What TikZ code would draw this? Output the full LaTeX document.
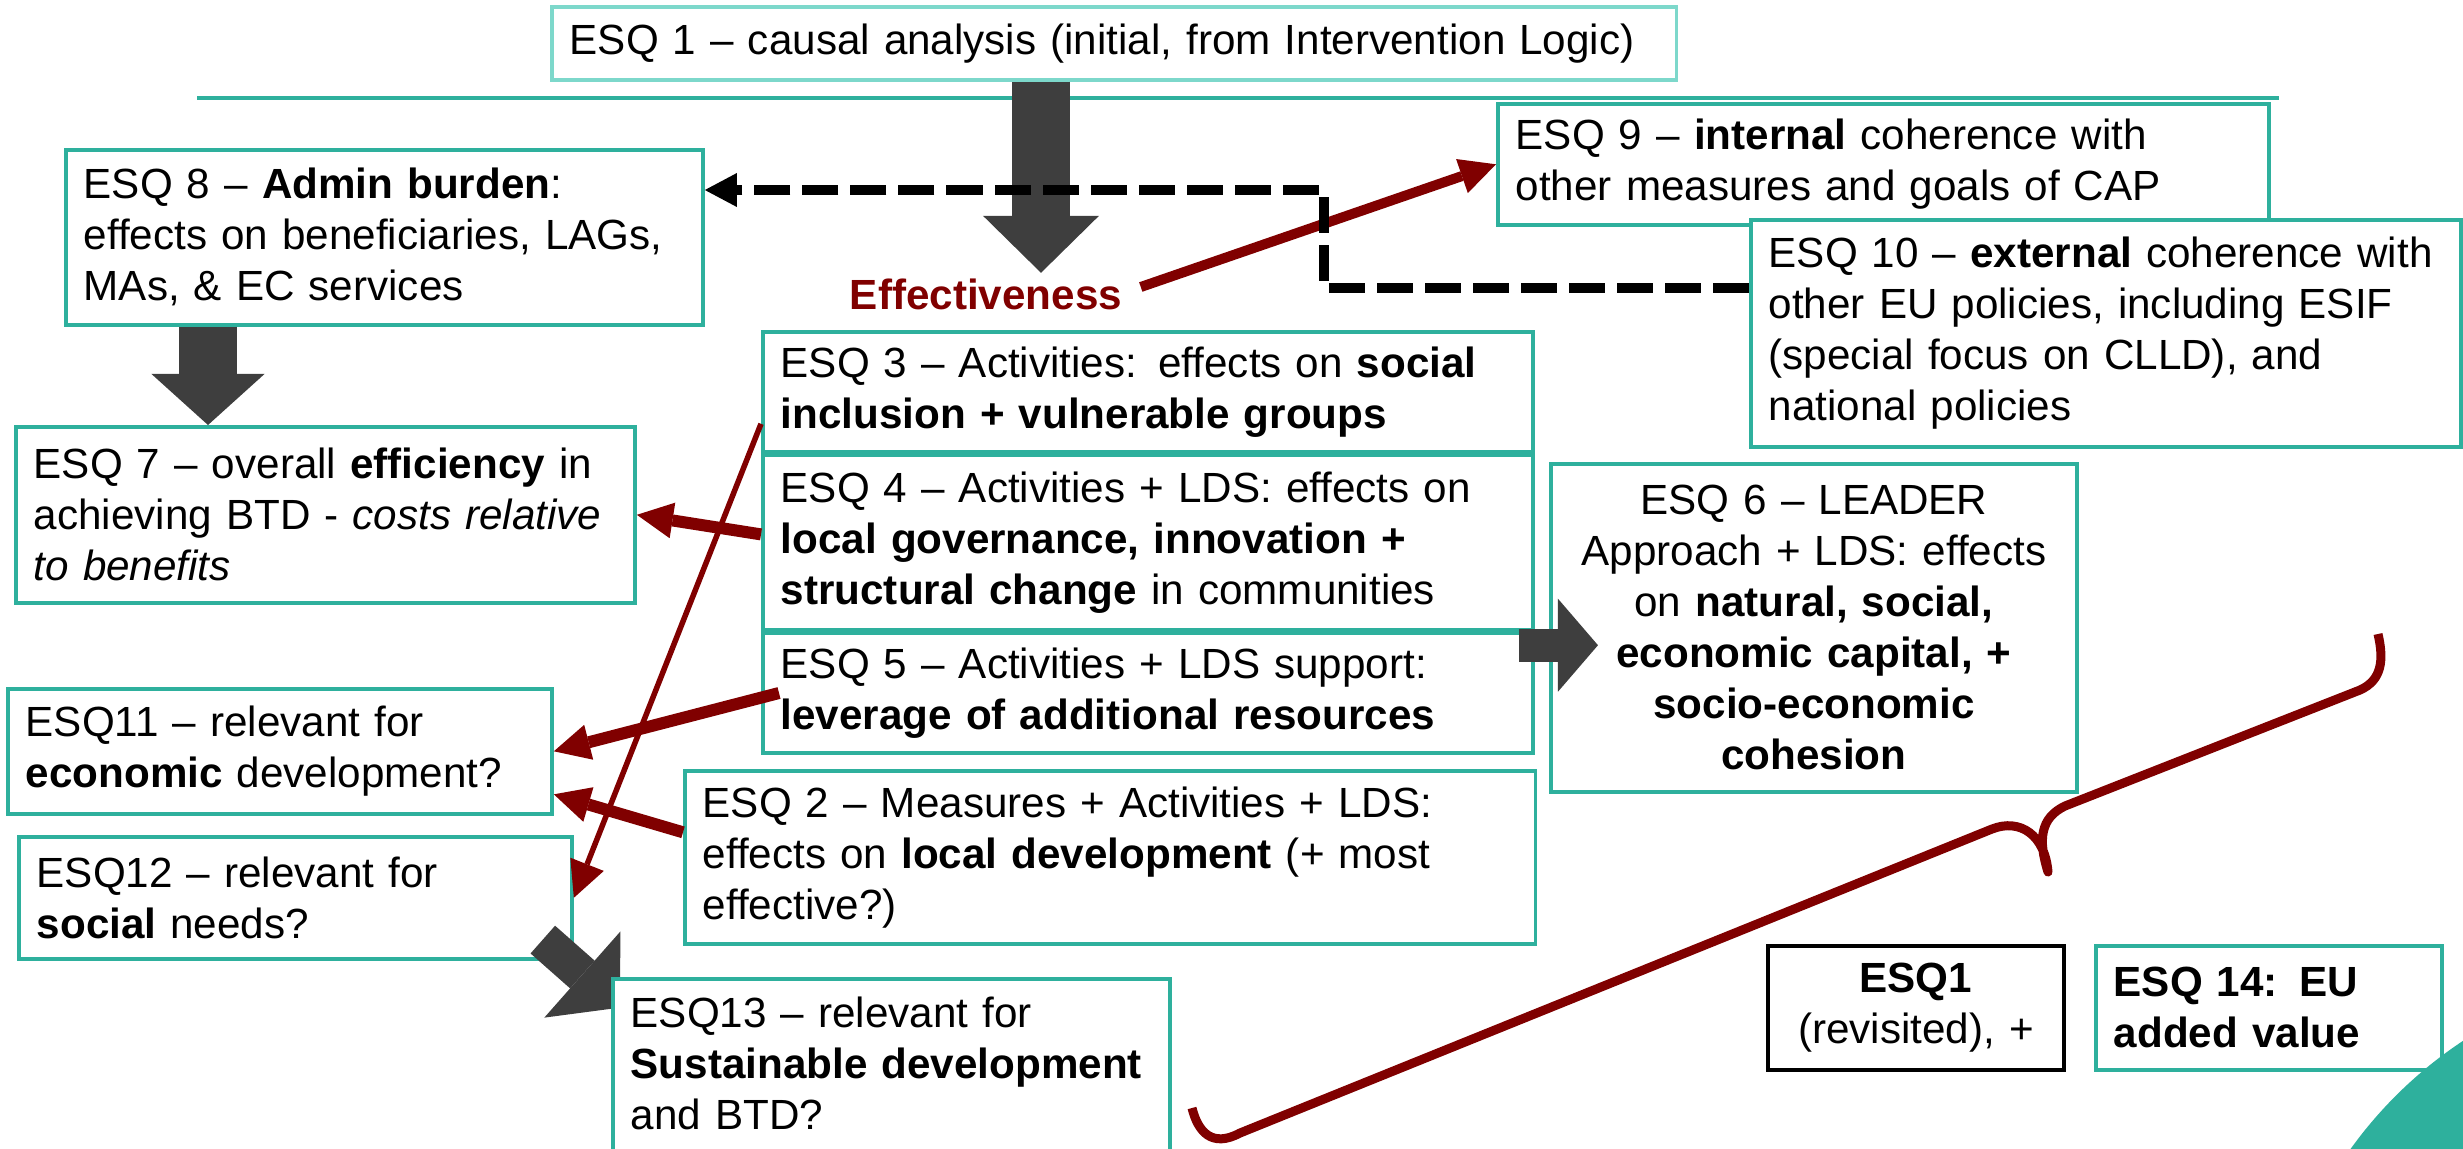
\documentclass[tikz,border=0pt]{standalone}
\usepackage{fontspec}
\setmainfont{Liberation Sans}
\usepackage{tikz}
\usetikzlibrary{arrows.meta,positioning}
\definecolor{esqteal}{RGB}{46,176,157}
\definecolor{esqlight}{RGB}{125,216,203}
\definecolor{darkred}{RGB}{128,0,0}
\definecolor{blockgray}{RGB}{62,62,62}
\newcommand\esqfont{\fontsize{12pt}{14.5pt}\selectfont}

\begin{document}
\begin{tikzpicture}[x=0.01cm,y=-0.01cm,
  esqbox/.style={draw=esqteal,line width=1pt,fill=white,inner xsep=0.18cm,inner ysep=0.04cm,
    align=left,anchor=north west,font=\esqfont},
  redarrow/.style={draw=darkred,line width=0.12cm,-{Triangle[length=0.36cm,width=0.36cm,line width=0pt]}},
  blockarrow/.style={draw=blockgray},
  dashline/.style={line width=0.1cm,dash pattern=on 0.36cm off 0.12cm}]
\useasboundingbox (0,0) rectangle (2463,1148);
% top: causal analysis
\draw[esqteal,line width=0.04cm] (197,98) -- (2279,98);
\node[esqbox,draw=esqlight,text width=10.88cm,minimum height=0.73cm] (esq1) at (550,5) {ESQ 1 – causal analysis (initial, from Intervention Logic)};
\node[font=\esqfont\bfseries,text=darkred,inner sep=0.05cm] (eff) at (986,294) {Effectiveness};
\draw[blockarrow,line width=0.58cm,-{Triangle[length=0.57cm,width=1.16cm,line width=0pt]}] (esq1.south -| 1041,0) -- (eff.north -| 1041,0);
% efficiency
\node[esqbox,text width=6.01cm,minimum height=1.75cm] (esq8) at (64,148) {ESQ 8 – \textbf{Admin burden}:\\effects on beneficiaries, LAGs,\\MAs, \& EC services};
\node[esqbox,text width=5.83cm,minimum height=1.76cm] (esq7) at (14,425) {ESQ 7 – overall \textbf{efficiency} in\\achieving BTD - \textit{costs relative}\\\textit{to benefits}};
\draw[blockarrow,line width=0.57cm,-{Triangle[length=0.51cm,width=1.13cm,line width=0pt]}] (esq8.south -| 208,0) -- (esq7.north -| 208,0);
% coherence
\node[esqbox,text width=7.35cm,minimum height=1.21cm] (esq9) at (1496,102) {ESQ 9 – \textbf{internal} coherence with\\other measures and goals of CAP};
\node[esqbox,text width=6.74cm,minimum height=2.27cm] (esq10) at (1749,218) {ESQ 10 – \textbf{external} coherence with\\other EU policies, including ESIF\\(special focus on CLLD), and\\national policies};
\draw[redarrow,line width=0.1cm] ([shift={(0.13cm,0.07cm)}]eff.east) -- (esq9.west);
\draw[dashline,-{Triangle[length=0.32cm,width=0.34cm,line width=0pt]}] (esq10.west |- 0,288) -| (1324,190) -- (esq8.east |- 0,190);
% effects of activities
\node[esqbox,text width=7.34cm,minimum height=1.20cm] (esq3) at (761,330) {ESQ 3 – Activities: effects on \textbf{social}\\\textbf{inclusion + vulnerable groups}};
\node[esqbox,text width=7.34cm,minimum height=1.74cm,below=0pt of esq3] (esq4) {ESQ 4 – Activities + LDS: effects on\\\textbf{local governance, innovation +}\\\textbf{structural change} in communities};
\node[esqbox,text width=7.34cm,minimum height=1.20cm,below=0pt of esq4] (esq5) {ESQ 5 – Activities + LDS support:\\\textbf{leverage of additional resources}};
\node[esqbox,text width=8.14cm,minimum height=1.73cm] (esq2) at (683,769) {ESQ 2 – Measures + Activities + LDS:\\effects on \textbf{local development} (+ most\\effective?)};
\node[esqbox,align=center,text width=4.90cm,minimum height=3.28cm] (esq6) at (1549,462) {ESQ 6 – LEADER\\Approach + LDS: effects\\on \textbf{natural, social,}\\\textbf{economic capital, +}\\\textbf{socio-economic}\\\textbf{cohesion}};
\draw[blockarrow,line width=0.33cm,-{Triangle[length=0.40cm,width=0.93cm,line width=0pt]}] ([shift={(-0.16cm,-0.14cm)}]esq5.north east) -- ++(79,0);
% relevance
\node[esqbox,text width=5.08cm,minimum height=1.25cm] (esq11) at (6,687) {ESQ11 – relevant for\\\textbf{economic} development?};
\node[esqbox,text width=5.17cm,minimum height=1.22cm] (esq12) at (17,835) {ESQ12 – relevant for\\\textbf{social} needs?};
\draw[redarrow] ([yshift=0.08cm]esq4.west) -- (esq7.east);
\draw[redarrow] ([xshift=0.18cm]esq5.west) -- (esq11.east);
\draw[redarrow] ([yshift=0.25cm]esq2.west) -- ([yshift=-0.43cm]esq11.east);
\draw[redarrow,line width=0.055cm] ([yshift=-0.32cm]esq3.west) -- (esq12.east);
\draw[blockarrow,line width=0.37cm,-{Triangle[length=0.50cm,width=1.15cm,line width=0pt]}] ([shift={(-0.31cm,0.21cm)}]esq12.south east) -- ([shift={(0.46cm,-0.47cm)}]esq12.south east);
\node[esqbox,text width=5.21cm,minimum height=1.80cm] (esq13) at (611,977) {ESQ13 – relevant for\\\textbf{Sustainable development}\\and BTD?\vspace{0.1cm}};
% brace and added value
\draw[darkred,line width=0.09cm,line join=round] (1192,1108) .. controls (1198,1132) and (1212,1148) .. (1240,1133) -- (1992,829) .. controls (2020,818) and (2045,835) .. (2048,872) .. controls (2038,840) and (2040,818) .. (2065,806) -- (2360,690) .. controls (2382,680) and (2384,660) .. (2378,634);
\node[esqbox,draw=black,align=center,text width=2.60cm,minimum height=1.24cm] (esq1b) at (1766,944) {\textbf{ESQ1}\\(revisited), +};
\node[esqbox,text width=3.10cm,minimum height=1.24cm] (esq14) at (2094,944) {\textbf{ESQ 14: EU}\\\textbf{added value}};
\begin{scope}
\clip (0,0) rectangle (2463,1148);
\fill[esqteal] (2700,1400) circle[radius=4.3cm];
\end{scope}
\end{tikzpicture}
\end{document}
